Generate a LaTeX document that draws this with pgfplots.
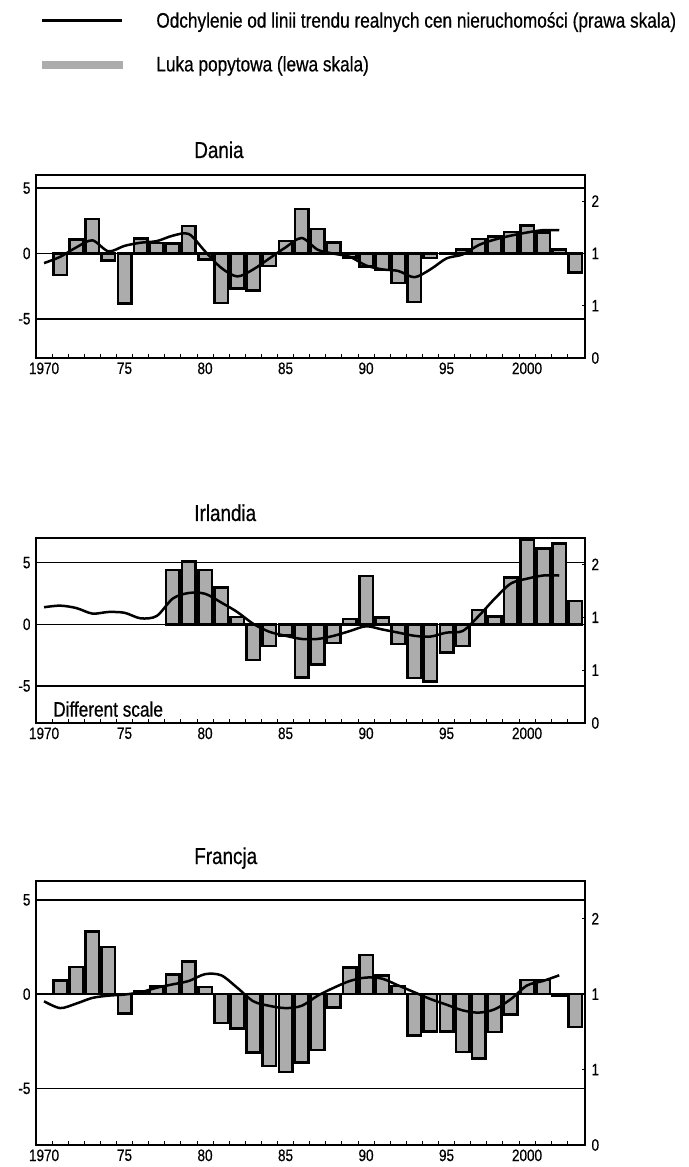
\documentclass[border=0pt]{standalone}
\usepackage{pgfplots}
\pgfplotsset{compat=1.18}
\usepackage{pgfplotstable}
\usepackage{fontspec}
\setmainfont{Liberation Sans}[FakeStretch=0.82, FakeBold=0.6]
\definecolor{barfill}{RGB}{172,172,172}
\newcommand\tickfont{\fontsize{16.5}{18}\selectfont}
\newcommand\titlefont{\fontsize{23}{26}\selectfont}
\newcommand\legfont{\fontsize{21}{24}\selectfont}

\pgfplotstableread{
year val
1971 -1.65
1972 1.05
1973 2.65
1974 -0.55
1975 -3.85
1976 1.15
1977 0.8
1978 0.75
1979 2.1
1980 -0.45
1981 -3.8
1982 -2.7
1983 -2.85
1984 -0.95
1985 0.95
1986 3.4
1987 1.85
1988 0.85
1989 -0.3
1990 -1.0
1991 -1.25
1992 -2.25
1993 -3.7
1994 -0.35
1995 0.05
1996 0.3
1997 1.1
1998 1.3
1999 1.65
2000 2.15
2001 1.6
2002 0.3
2003 -1.45
}\daniabars

\pgfplotstableread{
year val
1970 1.21
1971 1.29
1972 1.41
1973 1.50
1974 1.36
1975 1.43
1976 1.47
1977 1.49
1978 1.56
1979 1.58
1980 1.36
1981 1.15
1982 1.04
1983 1.13
1984 1.27
1985 1.41
1986 1.53
1987 1.38
1988 1.33
1989 1.29
1990 1.18
1991 1.13
1992 1.11
1993 1.03
1994 1.13
1995 1.27
1996 1.32
1997 1.44
1998 1.51
1999 1.56
2000 1.60
2001 1.63
2002 1.63
}\danialine

\pgfplotstableread{
year val
1978 4.4
1979 5.1
1980 4.4
1981 3.0
1982 0.6
1983 -2.9
1984 -1.75
1985 -0.9
1986 -4.3
1987 -3.25
1988 -1.5
1989 0.45
1990 3.9
1991 0.55
1992 -1.6
1993 -4.35
1994 -4.65
1995 -2.3
1996 -1.75
1997 1.15
1998 0.65
1999 3.8
2000 6.85
2001 6.15
2002 6.55
2003 1.9
}\irlbars

\pgfplotstableread{
year val
1970 1.46
1971 1.48
1972 1.45
1973 1.38
1974 1.40
1975 1.39
1976 1.32
1977 1.35
1978 1.57
1979 1.64
1980 1.63
1981 1.52
1982 1.40
1983 1.25
1984 1.15
1985 1.10
1986 1.06
1987 1.06
1988 1.10
1989 1.16
1990 1.22
1991 1.18
1992 1.14
1993 1.10
1994 1.09
1995 1.14
1996 1.16
1997 1.35
1998 1.57
1999 1.76
2000 1.82
2001 1.86
2002 1.86
}\irlline

\pgfplotstableread{
year val
1971 0.72
1972 1.43
1973 3.33
1974 2.49
1975 -1.02
1976 0.14
1977 0.4
1978 1.05
1979 1.72
1980 0.37
1981 -1.53
1982 -1.82
1983 -3.1
1984 -3.8
1985 -4.14
1986 -3.63
1987 -2.95
1988 -0.72
1989 1.4
1990 2.08
1991 1.0
1992 0.42
1993 -2.2
1994 -1.98
1995 -1.98
1996 -3.08
1997 -3.42
1998 -2.0
1999 -1.08
2000 0.74
2001 0.74
2002 -0.1
2003 -1.73
}\frabars

\pgfplotstableread{
year val
1970 1.27
1971 1.21
1972 1.25
1973 1.30
1974 1.32
1975 1.33
1976 1.35
1977 1.39
1978 1.42
1979 1.45
1980 1.51
1981 1.50
1982 1.39
1983 1.27
1984 1.23
1985 1.21
1986 1.23
1987 1.32
1988 1.39
1989 1.45
1990 1.48
1991 1.47
1992 1.41
1993 1.35
1994 1.29
1995 1.24
1996 1.19
1997 1.17
1998 1.20
1999 1.29
2000 1.41
2001 1.45
2002 1.50
}\fraline

\pgfplotsset{
  leftax/.style={
    scale only axis, width=549pt,
    xmin=1969.5, xmax=2003.6,
    axis line style={black, line width=1.2pt},
    xtick={1970,1975,...,2000},
    xticklabels={1970,75,80,85,90,95,2000},
    minor xtick={1970.5,1971.5,...,2002.5},
    xtick pos=left, xtick align=inside,
    major x tick style={draw=none},
    minor x tick style={black, line width=0.8pt},
    minor tick length=4pt,
    ytick={-5,0,5}, yticklabels={-5,0,5},
    ytick style={draw=none},
    ymajorgrids, grid style={black, line width=1.5pt},
    ticklabel style={font=\tickfont},
    xticklabel style={yshift=-1pt},
    yticklabel style={xshift=-2pt},
    title style={at={(axis description cs:0.288,1)}, anchor=base west, yshift=11pt, inner sep=0pt, font=\titlefont},
  },
  rightax/.style={
    scale only axis, width=549pt,
    xmin=1969.5, xmax=2003.6,
    ymin=0, ymax=2.33333,
    axis x line=none, axis y line*=right,
    axis line style={black, line width=1.2pt},
    ytick={0,0.666667,1.333333,2}, yticklabels={0,1,1,2},
    ytick align=inside, major tick length=3pt,
    ytick style={black, line width=0.8pt},
    ticklabel style={font=\tickfont},
    yticklabel style={xshift=3pt},
  },
  barst/.style={ybar, bar width=0.84, fill=barfill, draw=black, line width=2.5pt},
  linest/.style={black, line width=2.5pt, smooth, no markers},
}

\begin{document}
\begin{tikzpicture}
\useasboundingbox (0,0) rectangle (688pt,1167pt);

% Dania
\begin{axis}[leftax, at={(36pt,809pt)}, anchor=south west, height=183pt, ymin=-8, ymax=6, title={Dania}]
\addplot[barst] table[x=year,y=val]{\daniabars};
\end{axis}
\begin{axis}[rightax, at={(36pt,809pt)}, anchor=south west, height=183pt,
  legend style={draw=none, fill=none, at={(axis description cs:0,1)}, anchor=north west,
    xshift=4pt, yshift=163pt, font=\legfont, row sep=27pt, inner sep=0pt,
    nodes={inner sep=0pt}, /tikz/column 1/.style={column sep=33pt}},
  legend cell align=left]
\addplot[linest, forget plot] table[x=year,y=val]{\danialine};
\addlegendimage{legend image code/.code={\draw[black, line width=3.2pt] (0pt,0pt) -- (80pt,0pt);}}
\addlegendentry{Odchylenie od linii trendu realnych cen nieruchomości (prawa skala)}
\addlegendimage{legend image code/.code={\fill[barfill] (0pt,-3.2pt) rectangle (80pt,3.2pt);}}
\addlegendentry{Luka popytowa (lewa skala)}
\end{axis}

% Irlandia
\begin{axis}[leftax, at={(36pt,444pt)}, anchor=south west, height=185pt, ymin=-8, ymax=7, title={Irlandia}]
\addplot[barst] table[x=year,y=val]{\irlbars};
\node[anchor=west, inner sep=0pt, font=\legfont] at (axis description cs:0.031,0.075) {Different scale};
\end{axis}
\begin{axis}[rightax, at={(36pt,444pt)}, anchor=south west, height=185pt]
\addplot[linest] table[x=year,y=val]{\irlline};
\end{axis}

% Francja
\begin{axis}[leftax, at={(36pt,22pt)}, anchor=south west, height=264pt, ymin=-8, ymax=6, title={Francja}]
\addplot[barst] table[x=year,y=val]{\frabars};
\end{axis}
\begin{axis}[rightax, at={(36pt,22pt)}, anchor=south west, height=264pt]
\addplot[linest] table[x=year,y=val]{\fraline};
\end{axis}
\end{tikzpicture}
\end{document}
